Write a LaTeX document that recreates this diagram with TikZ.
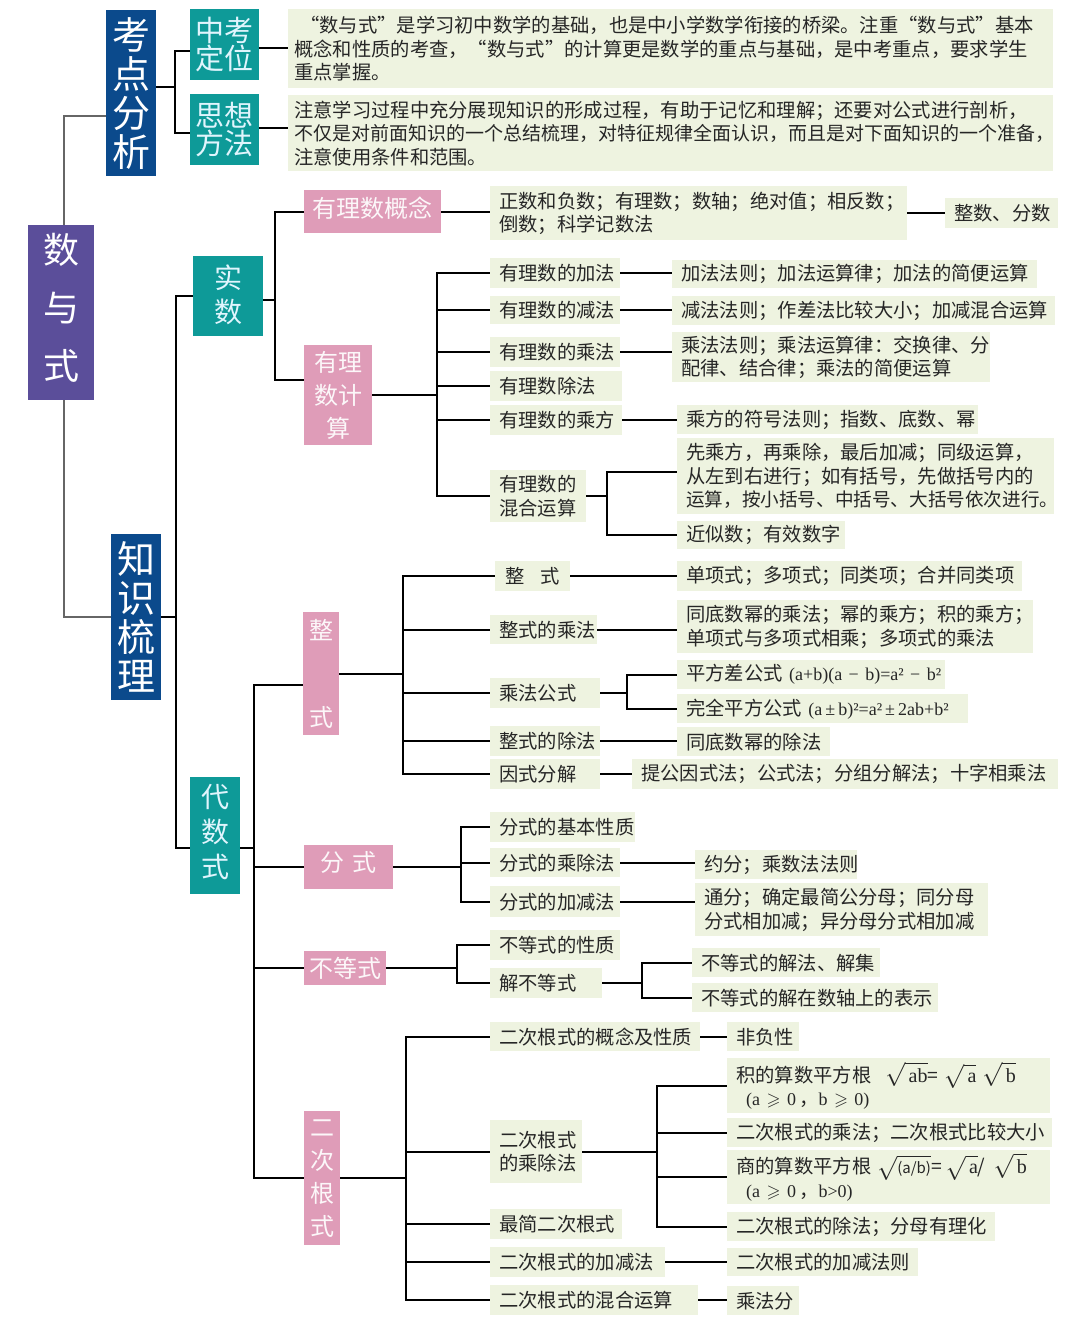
\documentclass[tikz,border=0pt]{standalone}
\usepackage{amsmath}
\usepackage{amssymb}
\usepackage{fix-cm}
\usepackage{fontspec}
\setmainfont{Noto Sans CJK SC}
\newfontfamily\fml{Liberation Serif}
\newcommand{\rootof}[1]{{\fontsize{24}{23.5}\selectfont$\sqrt{\hbox{\fml\fontsize{20}{20}\selectfont\,#1}}$}}
\newcommand{\rootfrac}[1]{{\fontsize{24}{23.5}\selectfont$\sqrt{\hbox{\fontsize{15}{16}\selectfont #1}}$}}
\newcommand{\fmltext}[1]{\mbox{\fml\fontsize{18}{20}\selectfont #1}}
\definecolor{rootcol}{HTML}{5B4E9A}
\definecolor{bluecol}{HTML}{0B4A8C}
\definecolor{tealcol}{HTML}{0E9A98}
\definecolor{pinkcol}{HTML}{DF9CB8}
\definecolor{leafcol}{HTML}{EEF3E0}
\definecolor{inkcol}{HTML}{262626}
\tikzset{
  sized/.style 2 args={minimum width=#1pt,minimum height=#2pt,anchor=north west,inner sep=0pt,align=center},
  rootnode/.style 2 args={sized={#1}{#2},fill=rootcol,text=white,font=\fontsize{36}{58}\selectfont},
  bluenode/.style 2 args={sized={#1}{#2},fill=bluecol,text=white,font=\fontsize{38}{39}\selectfont},
  tealnode/.style 2 args={sized={#1}{#2},fill=tealcol,text=cyan!12,font=\fontsize{29}{28}\selectfont},
  pinknode/.style 2 args={sized={#1}{#2},fill=pinkcol,text=white!92!pinkcol,font=\fontsize{24}{33}\selectfont},
  leaf/.style 2 args={text width={#1pt-18pt},minimum height=#2pt,anchor=north west,inner xsep=9pt,inner ysep=0pt,align=left,fill=leafcol,text=inkcol,font=\fontsize{19.3}{23.5}\selectfont},
  lift/.style={text depth=#1pt},
  link/.style={line width=2pt,black},
  trunk/.style={line width=2.5pt,black!60},
  bus/.style={to path={-- ++(#1,0) |- (\tikztotarget)}}
}
\begin{document}
\begin{tikzpicture}[x=1pt,y=-1pt]
    \useasboundingbox (0,0) rectangle (1080,1327);
    % first levels
    \node[rootnode={66}{175},lift=12] (shuyushi) at (28,225) {数\\与\\式};
    \node[bluenode={50}{166}] (kaodian) at (106,10) {考\\点\\分\\析};
    \node[bluenode={50}{166}] (zhishi) at (111,534) {知\\识\\梳\\理};
    \node[tealnode={69}{71},lift=2] (dingwei) at (190,9) {中考\\定位};
    \node[tealnode={69}{71},lift=2] (fangfa) at (190,94) {思想\\方法};
    \node[tealnode={70}{80},font=\fontsize{28}{34}\selectfont,lift=6] (shishu) at (193,256) {实\\数};
    \node[tealnode={50}{117},font=\fontsize{28}{35}\selectfont,lift=10] (daishu) at (190,777) {代\\数\\式};
    \node[leaf={765}{79},inner xsep=6pt,text width=753pt] (dwtext) at (288,9) {\hspace*{6pt}“数与式”是学习初中数学的基础，也是中小学数学衔接的桥梁。注重“数与式”基本\\概念和性质的考查，“数与式”的计算更是数学的重点与基础，是中考重点，要求学生\\重点掌握。};
    \node[leaf={765}{76},inner xsep=6pt,text width=753pt] (fftext) at (288,95) {注意学习过程中充分展现知识的形成过程，有助于记忆和理解；还要对公式进行剖析，\\{\fontsize{19}{23.5}\selectfont 不仅是对前面知识的一个总结梳理，对特征规律全面认识，而且是对下面知识的一个准备，}\\注意使用条件和范围。};
    % real numbers
    \node[pinknode={137}{43},lift=9] (gainian) at (304,190) {有理数概念};
    \node[pinknode={68}{100}] (jisuan) at (304,345) {有理\\数计\\算};
    \node[leaf={417}{54}] (gntext) at (490,186) {正数和负数；有理数；数轴；绝对值；相反数；\\倒数；科学记数法};
    \node[leaf={113}{30}] (zhengfen) at (945,198) {整数、分数};
    \node[leaf={130}{30}] (jia) at (490,258) {有理数的加法};
    \node[leaf={130}{28}] (jian) at (490,296) {有理数的减法};
    \node[leaf={130}{30}] (cheng) at (490,337) {有理数的乘法};
    \node[leaf={132}{30}] (chu) at (490,371) {有理数除法};
    \node[leaf={132}{30}] (fang) at (490,405) {有理数的乘方};
    \node[leaf={96}{52}] (hunhe) at (490,470) {有理数的\\混合运算};
    \node[leaf={365}{28}] (jiafa) at (672,260) {加法法则；加法运算律；加法的简便运算};
    \node[leaf={383}{29}] (jianfa) at (672,296) {减法法则；作差法比较大小；加减混合运算};
    \node[leaf={318}{50}] (chengfa) at (672,332) {乘法法则；乘法运算律：交换律、分\\配律、结合律；乘法的简便运算};
    \node[leaf={301}{29}] (fuhao) at (677,405) {乘方的符号法则；指数、底数、幂};
    \node[leaf={377}{76}] (xian) at (677,438) {先乘方，再乘除，最后加减；同级运算，\\从左到右进行；如有括号，先做括号内的\\{\fontsize{18.6}{23.5}\selectfont 运算，按小括号、中括号、大括号依次进行。}};
    \node[leaf={168}{28}] (jinsi) at (677,521) {近似数；有效数字};
    % integral expressions
    \node[pinknode={36}{123}] (zhengshi) at (303,612) {整\\[54pt]式};
    \node[leaf={75}{30}] (zs) at (495,561) {\hspace*{1pt}整\hspace{16pt}式};
    \node[leaf={107}{29}] (zscheng) at (490,615) {整式的乘法};
    \node[leaf={110}{30}] (cfgs) at (490,678) {乘法公式};
    \node[leaf={110}{30}] (zschu) at (490,726) {整式的除法};
    \node[leaf={110}{30}] (yinshi) at (490,759) {因式分解};
    \node[leaf={345}{30}] (danxiang) at (677,561) {单项式；多项式；同类项；合并同类项};
    \node[leaf={356}{53}] (tongdi) at (677,600) {同底数幂的乘法；幂的乘方；积的乘方；\\单项式与多项式相乘；多项式的乘法};
    \node[leaf={268}{29}] (pingfang) at (677,660) {\mbox{平方差公式 \fmltext{(a+b)(a − b)=a² − b²}}};
    \node[leaf={291}{29}] (wanquan) at (677,694) {\mbox{完全平方公式 \fmltext{(a\,±\,b)²=a²\,±\,2ab+b²}}};
    \node[leaf={153}{29}] (tdchu) at (677,727) {同底数幂的除法};
    \node[leaf={426}{30}] (tigong) at (632,759) {提公因式法；公式法；分组分解法；十字相乘法};
    % fractions and inequalities
    \node[pinknode={89}{44},lift=11] (fenshi) at (304,845) {分\hspace{8pt}式};
    \node[leaf={145}{30}] (fsxz) at (490,812) {分式的基本性质};
    \node[leaf={130}{29}] (fscc) at (490,848) {分式的乘除法};
    \node[leaf={130}{31}] (fsjj) at (490,886) {分式的加减法};
    \node[leaf={162}{29}] (yuefen) at (695,850) {约分；乘数法法则};
    \node[leaf={293}{53}] (tongfen) at (695,883) {通分；确定最简公分母；同分母\\分式相加减；异分母分式相加减};
    \node[pinknode={82}{34}] (budeng) at (304,951) {不等式};
    \node[leaf={130}{30}] (bdxz) at (490,930) {不等式的性质};
    \node[leaf={112}{30}] (jiebd) at (490,968) {解不等式};
    \node[leaf={188}{29}] (jiefa) at (692,948) {不等式的解法、解集};
    \node[leaf={246}{29}] (shuzhou) at (692,983) {不等式的解在数轴上的表示};
    % radicals
    \node[pinknode={36}{134}] (genshi) at (304,1111) {二\\次\\根\\式};
    \node[leaf={210}{29}] (gsgn) at (490,1022) {二次根式的概念及性质};
    \node[leaf={92}{63}] (gscc) at (490,1120) {二次根式\\的乘除法};
    \node[leaf={132}{30}] (zuijian) at (490,1209) {最简二次根式};
    \node[leaf={175}{30}] (gsjj) at (490,1247) {二次根式的加减法};
    \node[leaf={208}{30}] (gshh) at (490,1285) {二次根式的混合运算};
    \node[leaf={72}{29}] (feifu) at (727,1022) {非负性};
    \node[leaf={323}{55}] (jisq) at (727,1058) {积的算数平方根\hspace{14pt}\rootof{ab}={}\hspace{6pt}\rootof{a}\hspace{6pt}\rootof{b}\\\hspace*{10pt}\mbox{\fmltext{(a $\geqslant$ 0}\,，\fmltext{b $\geqslant$ 0)}}};
    \node[leaf={325}{29}] (gscheng) at (727,1118) {二次根式的乘法；二次根式比较大小};
    \node[leaf={323}{54}] (shangsq) at (727,1150) {商的算数平方根\hspace{6pt}\rootfrac{(a/b)}={}\hspace{4pt}\rootof{a}/\hspace{8pt}\rootof{b}\\\hspace*{10pt}\mbox{\fmltext{(a $\geqslant$ 0}\,，\fmltext{b>0)}}};
    \node[leaf={268}{29}] (gschu) at (727,1212) {二次根式的除法；分母有理化};
    \node[leaf={191}{28}] (jjfz) at (727,1248) {二次根式的加减法则};
    \node[leaf={72}{29}] (cfen) at (727,1286) {乘法分};
    % trunk
    \draw[trunk] ([xshift=3pt]shuyushi.north) |- ([yshift=-23pt]kaodian.west);
    \draw[trunk] ([xshift=3pt]shuyushi.south) |- (zhishi.west);
    % analysis
    \draw[link] ([yshift=6pt]kaodian.east) to[bus=19] ([yshift=-6pt]dingwei.west);
    \draw[link] ([yshift=6pt]kaodian.east) to[bus=19] ([yshift=-3pt]fangfa.west);
    \draw[link] ([yshift=-3pt]dingwei.east) -- ([yshift=-3pt]dingwei.east -| dwtext.west);
    \draw[link] ([yshift=2pt]fangfa.east) -- ([yshift=2pt]fangfa.east -| fftext.west);
    % knowledge
    \draw[link] (zhishi.east) to[bus=15] (shishu.west);
    \draw[link] (zhishi.east) to[bus=15] ([yshift=-12pt]daishu.west);
    \draw[link] ([yshift=-4pt]shishu.east) to[bus=12] (gainian.west);
    \draw[link] ([yshift=-4pt]shishu.east) to[bus=12] ([yshift=15pt]jisuan.west);
    \draw[link] (gainian.east) -- (gainian.east -| gntext.west);
    \draw[link] (gntext.east) -- (gntext.east -| zhengfen.west);
    \draw[link] (jisuan.east) to[bus=65] (jia.west);
    \draw[link] (jisuan.east) to[bus=65] (jian.west);
    \draw[link] (jisuan.east) to[bus=65] (cheng.west);
    \draw[link] (jisuan.east) to[bus=65] (chu.west);
    \draw[link] (jisuan.east) to[bus=65] (fang.west);
    \draw[link] (jisuan.east) to[bus=65] (hunhe.west);
    \draw[link] (jia.east) -- (jia.east -| jiafa.west);
    \draw[link] (jian.east) -- (jian.east -| jianfa.west);
    \draw[link] (cheng.east) -- (cheng.east -| chengfa.west);
    \draw[link] (fang.east) -- (fang.east -| fuhao.west);
    \draw[link] (hunhe.east) to[bus=21] ([yshift=4pt]xian.west);
    \draw[link] (hunhe.east) to[bus=21] (jinsi.west);
    % algebra
    \draw[link] ([yshift=-12pt]daishu.east) to[bus=14] ([yshift=-11pt]zhengshi.west);
    \draw[link] ([yshift=-12pt]daishu.east) to[bus=14] (fenshi.west);
    \draw[link] ([yshift=-12pt]daishu.east) to[bus=14] (budeng.west);
    \draw[link] ([yshift=-12pt]daishu.east) to[bus=14] (genshi.west);
    \draw[link] (zhengshi.east) to[bus=64] (zs.west);
    \draw[link] (zhengshi.east) to[bus=64] (zscheng.west);
    \draw[link] (zhengshi.east) to[bus=64] (cfgs.west);
    \draw[link] (zhengshi.east) to[bus=64] (zschu.west);
    \draw[link] (zhengshi.east) to[bus=64] (yinshi.west);
    \draw[link] (zs.east) -- (zs.east -| danxiang.west);
    \draw[link] (zscheng.east) -- (zscheng.east -| tongdi.west);
    \draw[link] (cfgs.east) to[bus=27] (pingfang.west);
    \draw[link] (cfgs.east) to[bus=27] (wanquan.west);
    \draw[link] (zschu.east) -- (zschu.east -| tdchu.west);
    \draw[link] (yinshi.east) -- (yinshi.east -| tigong.west);
    \draw[link] (fenshi.east) to[bus=68] (fsxz.west);
    \draw[link] (fenshi.east) to[bus=68] (fscc.west);
    \draw[link] (fenshi.east) to[bus=68] (fsjj.west);
    \draw[link] (fscc.east) -- (fscc.east -| yuefen.west);
    \draw[link] (fsjj.east) -- (fsjj.east -| tongfen.west);
    \draw[link] (budeng.east) to[bus=71] (bdxz.west);
    \draw[link] (budeng.east) to[bus=71] (jiebd.west);
    \draw[link] (jiebd.east) to[bus=40] (jiefa.west);
    \draw[link] (jiebd.east) to[bus=40] (shuzhou.west);
    \draw[link] (genshi.east) to[bus=66] (gsgn.west);
    \draw[link] (genshi.east) to[bus=66] (gscc.west);
    \draw[link] (genshi.east) to[bus=66] (zuijian.west);
    \draw[link] (genshi.east) to[bus=66] (gsjj.west);
    \draw[link] (genshi.east) to[bus=66] (gshh.west);
    \draw[link] (gsgn.east) -- (gsgn.east -| feifu.west);
    \draw[link] (gscc.east) to[bus=75] (jisq.west);
    \draw[link] (gscc.east) to[bus=75] (gscheng.west);
    \draw[link] (gscc.east) to[bus=75] (shangsq.west);
    \draw[link] (gscc.east) to[bus=75] (gschu.west);
    \draw[link] (gsjj.east) -- (gsjj.east -| jjfz.west);
    \draw[link] (gshh.east) -- (gshh.east -| cfen.west);
\end{tikzpicture}
\end{document}
